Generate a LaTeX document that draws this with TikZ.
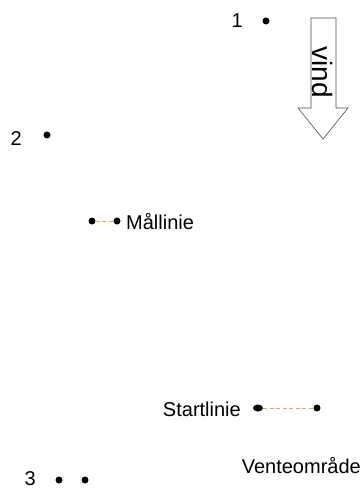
\documentclass[tikz,border=0pt]{standalone}
\usepackage{fontspec}
\setmainfont{Liberation Sans}
\usetikzlibrary{positioning,shapes.geometric}

\definecolor{lineorange}{RGB}{240,170,40}

\tikzset{
  dot/.style={circle, fill=black, inner sep=0pt, minimum size=7pt},
  lbl/.style={inner sep=0pt, font=\fontsize{20}{22}\selectfont},
  line/.style={draw=lineorange, dash pattern=on 4pt off 2.5pt, line width=1pt}
}

\begin{document}
\begin{tikzpicture}[x=1pt, y=-1pt]
  \useasboundingbox (0,0) rectangle (363,489);
  % buoys
  \node[dot] (b1) at (266,21) {};
  \node[lbl, anchor=east] (n1) at (243,21) {1};
  \node[dot] (b2) at (47,135) {};
  \node[lbl, anchor=east] (n2) at (22,139) {2};
  \node[dot] (b3a) at (59,480) {};
  \node[dot] (b3b) at (85,480) {};
  \node[lbl, anchor=east] (n3) at (36,479) {3};
  % finish line
  \node[dot] (m1) at (92,221) {};
  \node[dot] (m2) at (117,221) {};
  \draw[line] (m1) -- (m2);
  \node[lbl, anchor=west] (mal) at (126,222) {Mållinie};
  % start line
  \node[dot, ellipse, minimum width=10pt, minimum height=7pt] (s1) at (258,408) {};
  \node[dot] (s2) at (317,408) {};
  \draw[line] (s1) -- (s2);
  \node[lbl, anchor=east] (start) at (241,409) {Startlinie};
  \node[lbl, anchor=east] (vente) at (361,466) {Venteområde};
  % wind arrow
  \draw[line width=0.6pt, draw=black!70, fill=white] (311,18) -- (336,18) -- (336,108)
    -- (348,108) -- (323,139) -- (298,108) -- (311,108) -- cycle;
  \node[inner sep=0pt, font=\fontsize{28}{30}\selectfont, rotate=-90] (vind) at (323,72) {vind};
\end{tikzpicture}
\end{document}
